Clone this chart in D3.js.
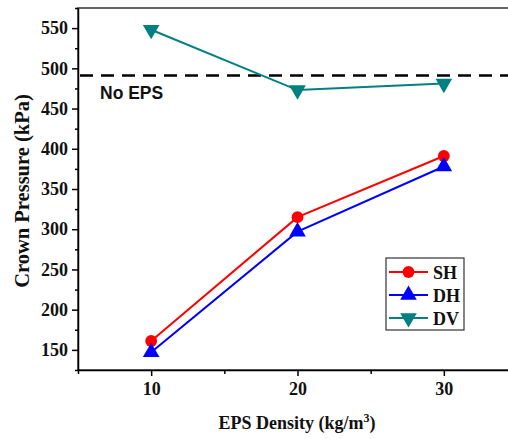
<!DOCTYPE html>
<html><head><meta charset="utf-8">
<script src="https://cdn.jsdelivr.net/npm/d3@7"></script>
<style>body{margin:0;background:#fff;overflow:hidden}</style>
</head><body>
<script>
const densities = [10, 20, 30];
const SH = [161, 315, 391];
const DH = [147, 297, 378];
const DV = [548, 473, 481];
const noEPS = 491;
const yTicks = [150, 200, 250, 300, 350, 400, 450, 500, 550];
const xTicks = [10, 20, 30];
const seriesNames = ["SH", "DH", "DV"];

const W = 508, H = 439;
const svg = d3.select("body").append("svg").attr("width", W).attr("height", H);
const m = {l: 78, t: 8, r: 517, b: 370};
const x = d3.scaleLinear().domain([5, 35]).range([m.l, m.r]);
const y = d3.scaleLinear().domain([125, 575]).range([m.b, m.t]);

const serif = "'Liberation Serif','Times New Roman',serif";

// frame
svg.append("rect").attr("x", m.l).attr("y", m.t).attr("width", m.r - m.l).attr("height", m.b - m.t)
  .attr("fill", "none").attr("stroke", "#333").attr("stroke-width", 1.5);

// y axis
const yAx = svg.append("g").attr("transform", `translate(${m.l},0)`)
  .call(d3.axisLeft(y).tickValues(yTicks).tickSize(6).tickSizeOuter(0).tickPadding(4));
yAx.select(".domain").attr("stroke", "#000").attr("stroke-width", 1.5);
yAx.selectAll(".tick line").attr("stroke-width", 1.5);
yAx.selectAll("text").attr("font-family", serif).attr("font-weight", "bold").attr("font-size", 18).attr("fill", "#111");
const yMinor = svg.append("g").attr("transform", `translate(${m.l},0)`)
  .call(d3.axisLeft(y).tickValues(yTicks.map(v => v + 25).concat([125])).tickSize(3).tickFormat(""));
yMinor.select(".domain").remove();
yMinor.selectAll(".tick line").attr("stroke-width", 1.5);

// x axis
const xAx = svg.append("g").attr("transform", `translate(0,${m.b})`)
  .call(d3.axisBottom(x).tickValues(xTicks).tickSize(6).tickSizeOuter(0).tickPadding(6));
xAx.select(".domain").attr("stroke", "#000").attr("stroke-width", 1.5);
xAx.selectAll(".tick line").attr("stroke-width", 1.5);
xAx.selectAll("text").attr("font-family", serif).attr("font-weight", "bold").attr("font-size", 18).attr("fill", "#111");
const xMinor = svg.append("g").attr("transform", `translate(0,${m.b})`)
  .call(d3.axisBottom(x).tickValues([5, 15, 25, 35]).tickSize(4).tickFormat(""));
xMinor.select(".domain").remove();
xMinor.selectAll(".tick line").attr("stroke-width", 1.5);

// No EPS line
svg.append("line").attr("x1", x(5) + 2).attr("x2", x(35)).attr("y1", y(noEPS)).attr("y2", y(noEPS))
  .attr("stroke", "#000").attr("stroke-width", 2.5).attr("stroke-dasharray", "13,8");
svg.append("text").attr("x", x(5) + 22).attr("y", y(noEPS) + 23)
  .attr("font-family", "'Liberation Sans',Arial,sans-serif").attr("font-weight", "bold").attr("font-size", 17.5)
  .attr("fill", "#111").text("No EPS");

const colors = {SH: "#ff0000", DH: "#0000ff", DV: "#008080"};
const data = {SH, DH, DV};
const symbols = {SH: d3.symbolCircle, DH: d3.symbolTriangle, DV: d3.symbolTriangle};
const line = d3.line().x((d, i) => x(densities[i])).y(d => y(d));

function marker(g, name, cx, cy) {
  const size = name === "SH" ? 110 : 120;
  const rot = name === "DV" ? 180 : 0;
  g.append("path").attr("d", d3.symbol().type(symbols[name]).size(size)())
    .attr("transform", `translate(${cx},${cy}) rotate(${rot})`)
    .attr("fill", colors[name]);
}

seriesNames.forEach(name => {
  svg.append("path").datum(data[name]).attr("d", line)
    .attr("fill", "none").attr("stroke", colors[name]).attr("stroke-width", 2);
  data[name].forEach((v, i) => marker(svg, name, x(densities[i]), y(v)));
});

// legend
const lg = svg.append("g");
lg.append("rect").attr("x", 386).attr("y", 258).attr("width", 78).attr("height", 72)
  .attr("fill", "#fff").attr("stroke", "#333").attr("stroke-width", 1.2);
seriesNames.forEach((name, i) => {
  const ly = 272 + i * 23;
  lg.append("line").attr("x1", 389).attr("x2", 428).attr("y1", ly).attr("y2", ly)
    .attr("stroke", colors[name]).attr("stroke-width", 2);
  marker(lg, name, 408.5, ly);
  lg.append("text").attr("x", 433).attr("y", ly + 6.5).attr("font-family", serif).attr("font-weight", "bold")
    .attr("font-size", 18).attr("fill", "#111").text(name);
});

// axis titles
const xt = svg.append("text").attr("x", 297).attr("y", 429).attr("text-anchor", "middle")
  .attr("font-family", serif).attr("font-weight", "bold").attr("font-size", 18).attr("fill", "#111");
xt.append("tspan").text("EPS Density (kg/m");
xt.append("tspan").attr("dy", -7).attr("font-size", 12).text("3");
xt.append("tspan").attr("dy", 7).text(")");

svg.append("text").attr("transform", `translate(29,191) rotate(-90)`).attr("text-anchor", "middle")
  .attr("font-family", serif).attr("font-weight", "bold").attr("font-size", 20.5).attr("fill", "#111")
  .text("Crown Pressure (kPa)");
</script>
</body></html>
